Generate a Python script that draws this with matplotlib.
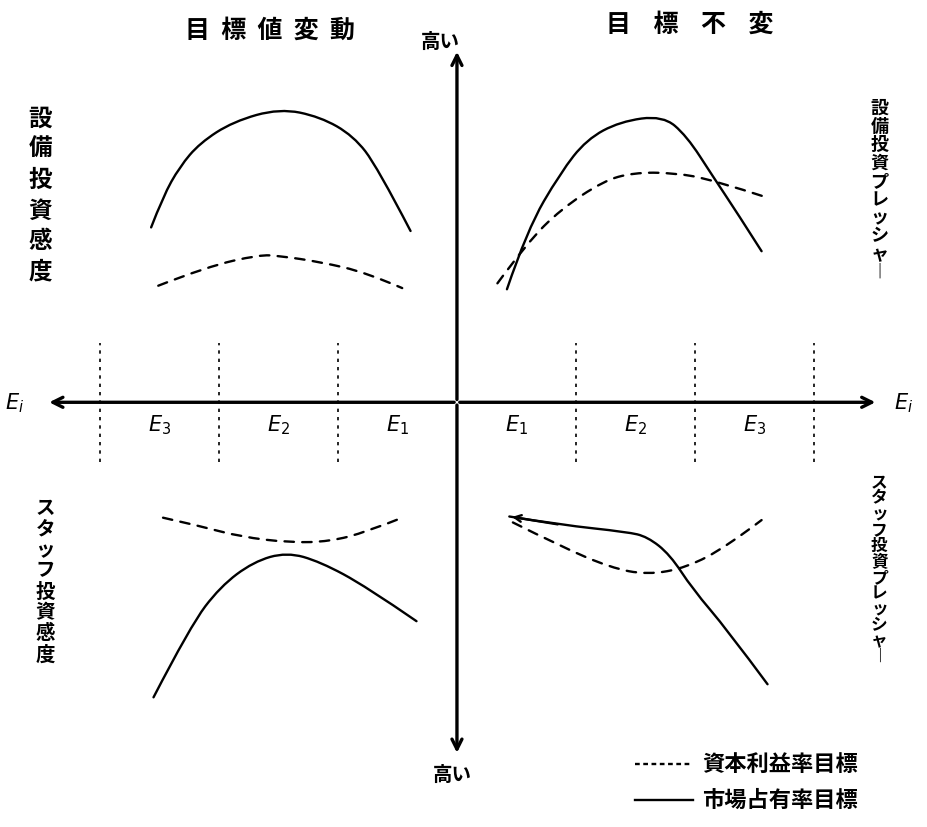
import matplotlib.pyplot as plt
from matplotlib.path import Path
from matplotlib.patches import PathPatch

plt.rcParams['font.family'] = ['Noto Sans CJK JP', 'DejaVu Sans']

# --- DADOS (unidades: 1 = largura de uma zona E) ---
# 目標値変動 / 設備投資感度
tl_solid_x = [-2.57, -2.47, -2.33, -2.16, -1.88, -1.49, -1.15, -0.87, -0.67, -0.39]
tl_solid_y = [1.47, 1.73, 1.98, 2.18, 2.36, 2.47, 2.40, 2.24, 1.98, 1.44]
tl_dash_x = [-2.51, -2.10, -1.66, -1.49, -1.15, -0.76, -0.46]
tl_dash_y = [0.98, 1.14, 1.24, 1.23, 1.18, 1.09, 0.96]

# 目標不変 / 設備投資プレッシャー
tr_solid_x = [0.42, 0.59, 0.87, 1.09, 1.37, 1.73, 1.93, 2.15, 2.35, 2.56]
tr_solid_y = [0.95, 1.45, 1.93, 2.21, 2.36, 2.41, 2.24, 1.90, 1.60, 1.27]
tr_dash_x = [0.34, 0.59, 0.87, 1.23, 1.48, 1.82, 2.15, 2.61]
tr_dash_y = [1.00, 1.34, 1.62, 1.86, 1.93, 1.93, 1.87, 1.72]

# スタッフ投資感度
bl_solid_x = [-2.55, -2.24, -1.99, -1.71, -1.43, -1.15, -0.76, -0.34]
bl_solid_y = [-2.48, -1.88, -1.55, -1.34, -1.26, -1.34, -1.55, -1.84]
bl_dash_x = [-2.47, -2.16, -1.82, -1.40, -1.07, -0.76, -0.46]
bl_dash_y = [-0.97, -1.04, -1.13, -1.18, -1.17, -1.09, -0.97]

# スタッフ投資プレッシャー
br_solid_x = [0.44, 0.87, 1.43, 1.60, 1.79, 1.98, 2.27, 2.61]
br_solid_y = [-0.96, -1.03, -1.09, -1.13, -1.28, -1.57, -1.91, -2.37]
br_dash_x = [0.47, 0.87, 1.29, 1.60, 1.93, 2.27, 2.56]
br_dash_y = [-1.01, -1.21, -1.39, -1.45, -1.39, -1.21, -0.99]

zone_bounds = [-3, -2, -1, 1, 2, 3]
zone_labels_left = ['$E_3$', '$E_2$', '$E_1$']
zone_labels_right = ['$E_1$', '$E_2$', '$E_3$']
legend_labels = ['資本利益率目標', '市場占有率目標']

LW = 1.7
DASH = (4, 3.5)

fig = plt.figure(figsize=(9.27, 8.28), dpi=100)
ax = fig.add_axes([0, 0, 1, 1])
ax.set_xlim(-3.84, 3.95)
ax.set_ylim(-3.57, 3.39)
ax.axis('off')


def curva(xs, ys, ls):
    # curva suave: pontos lidos viram pontos de controle (quadráticas pelos pontos médios)
    pts = list(zip(xs, ys))
    verts = [pts[0]]
    codes = [Path.MOVETO]
    for i in range(1, len(pts) - 1):
        mid = ((pts[i][0] + pts[i + 1][0]) / 2, (pts[i][1] + pts[i + 1][1]) / 2)
        verts += [pts[i], mid if i < len(pts) - 2 else pts[-1]]
        codes += [Path.CURVE3, Path.CURVE3]
    patch = PathPatch(Path(verts, codes), fill=False, lw=LW, ls=ls,
                      edgecolor='black', capstyle='round')
    ax.add_patch(patch)


# eixos com setas
arrow = dict(arrowstyle='->', lw=2.4, color='black', mutation_scale=18)
ax.annotate('', xy=(0, 2.97), xytext=(0, 0), arrowprops=arrow)
ax.annotate('', xy=(0, -2.97), xytext=(0, 0), arrowprops=arrow)
ax.annotate('', xy=(-3.45, 0), xytext=(0, 0), arrowprops=arrow)
ax.annotate('', xy=(3.54, 0), xytext=(0, 0), arrowprops=arrow)

# divisões das zonas
for b in zone_bounds:
    ax.plot([b, b], [-0.5, 0.5], color='black', lw=1.2, ls=(0, (2, 3)))

for i, lab in enumerate(zone_labels_left):
    ax.text(-2.5 + i, -0.18, lab, fontsize=15, ha='center', va='center', family='DejaVu Sans')
for i, lab in enumerate(zone_labels_right):
    ax.text(0.5 + i, -0.18, lab, fontsize=15, ha='center', va='center', family='DejaVu Sans')

ax.text(-3.72, 0.0, '$E_i$', fontsize=15, ha='center', va='center')
ax.text(3.75, 0.0, '$E_i$', fontsize=15, ha='center', va='center')

# curvas
for xs, ys in [(tl_solid_x, tl_solid_y), (tr_solid_x, tr_solid_y),
               (bl_solid_x, bl_solid_y), (br_solid_x, br_solid_y)]:
    curva(xs, ys, '-')
for xs, ys in [(tl_dash_x, tl_dash_y), (tr_dash_x, tr_dash_y),
               (bl_dash_x, bl_dash_y), (br_dash_x, br_dash_y)]:
    curva(xs, ys, (0, DASH))

# ponta de seta na curva de スタッフ投資プレッシャー
ax.annotate('', xy=(br_solid_x[0], br_solid_y[0]), xytext=(br_solid_x[1], br_solid_y[1]),
            arrowprops=dict(arrowstyle='->', lw=LW, color='black', mutation_scale=12))

# títulos (letras espaçadas como no original)
ax.text(-1.57, 3.13, '  '.join('目標値変動'), fontsize=18, fontweight='bold',
        ha='center', va='center')
ax.text(1.96, 3.18, '    '.join('目標不変'), fontsize=18, fontweight='bold',
        ha='center', va='center')
ax.text(-0.14, 3.03, '高い', fontsize=14, fontweight='bold', ha='center', va='center')
ax.text(-0.04, -3.13, '高い', fontsize=14, fontweight='bold', ha='center', va='center')


def vtext(x, y, s, size, spacing):
    s = s.replace('ー', '︱')
    ax.text(x, y, '\n'.join(s), fontsize=size, fontweight='bold', ha='center',
            va='center', linespacing=spacing)


vtext(-3.50, 1.75, '設備投資感度', 17, 1.35)
vtext(3.55, 1.79, '設備投資プレッシャー', 13, 0.95)
vtext(-3.46, -1.50, 'スタッフ投資感度', 14, 1.12)
vtext(3.55, -1.40, 'スタッフ投資プレッシャー', 12, 0.85)

# legenda
ax.plot([1.50, 1.96], [-3.04, -3.04], color='black', lw=LW, ls=(0, (2, 1.5)))
ax.plot([1.50, 1.98], [-3.34, -3.34], color='black', lw=LW)
ax.text(2.06, -3.04, legend_labels[0], fontsize=16, fontweight='bold', ha='left', va='center')
ax.text(2.06, -3.34, legend_labels[1], fontsize=16, fontweight='bold', ha='left', va='center')

fig.savefig('out.png', dpi=100)
